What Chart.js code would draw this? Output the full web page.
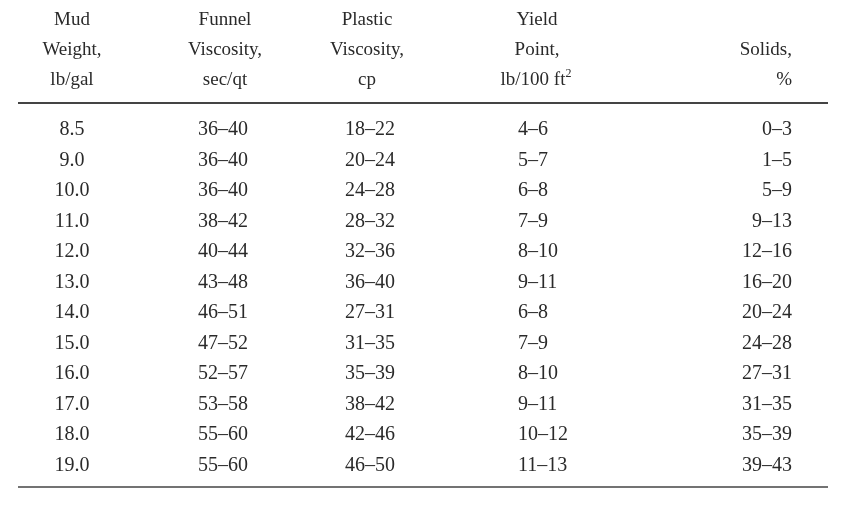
<!DOCTYPE html>
<html><head><meta charset="utf-8">
<script src="https://cdn.jsdelivr.net/npm/chart.js@4/dist/chart.umd.min.js"></script>
<style>html,body{margin:0;padding:0;background:#fff}#w{width:841px;height:508px}</style>
</head><body><div id="w"><canvas id="c"></canvas></div>
<script>
const headers = [
  ["Mud","Weight,","lb/gal"],
  ["Funnel","Viscosity,","sec/qt"],
  ["Plastic","Viscosity,","cp"],
  ["Yield","Point,","lb/100 ft²"],
  ["","Solids,","%"]
];
const mudWeight = ["8.5","9.0","10.0","11.0","12.0","13.0","14.0","15.0","16.0","17.0","18.0","19.0"];
const funnelVisc = ["36–40","36–40","36–40","38–42","40–44","43–48","46–51","47–52","52–57","53–58","55–60","55–60"];
const plasticVisc = ["18–22","20–24","24–28","28–32","32–36","36–40","27–31","31–35","35–39","38–42","42–46","46–50"];
const yieldPoint = ["4–6","5–7","6–8","7–9","8–10","9–11","6–8","7–9","8–10","9–11","10–12","11–13"];
const solids = ["0–3","1–5","5–9","9–13","12–16","16–20","20–24","24–28","27–31","31–35","35–39","39–43"];
const columns = [mudWeight, funnelVisc, plasticVisc, yieldPoint, solids];

// layout (pixel-space of hidden linear axes)
const colX = [72, 198, 345, 518, 792];
const colAlign = ["center","left","left","left","right"];
const headX = [72, 225, 367, 537, 792];
const headAlign = ["center","center","center","center","right"];
const headY = [20, 50, 80];
const rowY0 = 130, rowStep = 30.5;

const tablePlugin = {
  id:'table',
  afterDraw(chart){
    const ctx = chart.ctx, xs = chart.scales.x, ys = chart.scales.y;
    ctx.save();
    ctx.fillStyle = '#2a2a2a';
    ctx.textBaseline = 'middle';
    ctx.font = '19px "Liberation Serif", serif';
    headers.forEach((h,i)=>h.forEach((t,j)=>{
      ctx.textAlign = headAlign[i];
      let txt = t;
      if (t.endsWith('²')) {
        const base = t.slice(0,-1);
        ctx.fillText(base, xs.getPixelForValue(headX[i]) - 4, ys.getPixelForValue(headY[j]));
        const w = ctx.measureText(base).width;
        ctx.save(); ctx.font='12px "Liberation Serif", serif'; ctx.textAlign='left';
        ctx.fillText('2', xs.getPixelForValue(headX[i]) - 4 + w/2, ys.getPixelForValue(headY[j]) - 6);
        ctx.restore();
      } else ctx.fillText(txt, xs.getPixelForValue(headX[i]), ys.getPixelForValue(headY[j]));
    }));
    ctx.font = '20px "Liberation Serif", serif';
    columns.forEach((col,i)=>col.forEach((t,r)=>{
      ctx.textAlign = colAlign[i];
      ctx.fillText(t, xs.getPixelForValue(colX[i]), ys.getPixelForValue(rowY0 + r*rowStep));
    }));
    ctx.strokeStyle = '#444';
    ctx.lineWidth = 2;
    ctx.beginPath(); ctx.moveTo(xs.getPixelForValue(18), ys.getPixelForValue(103)); ctx.lineTo(xs.getPixelForValue(828), ys.getPixelForValue(103)); ctx.stroke();
    ctx.lineWidth = 1.5;
    ctx.beginPath(); ctx.moveTo(xs.getPixelForValue(18), ys.getPixelForValue(487)); ctx.lineTo(xs.getPixelForValue(828), ys.getPixelForValue(487)); ctx.stroke();
    ctx.restore();
  }
};

new Chart(document.getElementById('c'), {
  type:'scatter',
  data:{datasets:[{data:[], pointRadius:0}]},
  options:{
    responsive:true, maintainAspectRatio:false, animation:false,
    layout:{padding:0},
    plugins:{legend:{display:false}, tooltip:{enabled:false}},
    scales:{
      x:{type:'linear', min:0, max:841, display:false},
      y:{type:'linear', min:0, max:508, reverse:true, display:false}
    }
  },
  plugins:[tablePlugin]
});
</script></body></html>
